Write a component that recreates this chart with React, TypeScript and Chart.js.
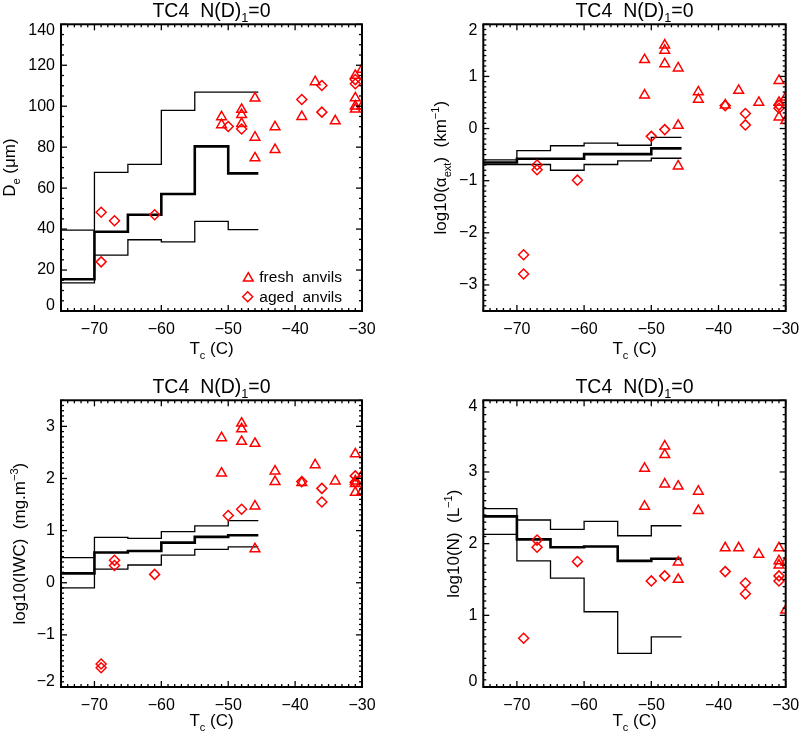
import React, { useEffect, useRef } from "react";
import { Chart, registerables } from "chart.js";
Chart.register(...registerables);

const FONT = '"Liberation Sans", Arial, Helvetica, sans-serif';
const RED = "#ff0000";

// ---------- shared x axis ----------
const binEdges = [-75, -70, -65, -60, -55, -50, -45.5];
const xTickValues = [-70, -60, -50, -40, -30];
const xTickLabels = ["\u221270", "\u221260", "\u221250", "\u221240", "\u221230"];

// ---------- Panel 1: De ----------
const deUpper = [39.5, 67.7, 71.6, 98.0, 106.9, 106.9];
const deMedian = [15.5, 38.7, 47.0, 57.1, 80.4, 67.2];
const deLower = [13.7, 27.3, 34.8, 33.8, 43.8, 39.7];
const deFreshT = [-51, -51, -48, -48, -48, -46, -46, -46, -43, -43, -39, -37, -34, -31, -31, -31, -31, -30, -30];
const deFreshV = [94.8, 90.9, 98.4, 95.9, 91.5, 103.9, 84.8, 74.7, 89.9, 78.8, 94.9, 111.9, 92.8, 115, 104, 100, 98.5, 118, 100];
const deAgedT = [-69, -69, -67, -61, -50, -48, -39, -36, -36, -31, -31];
const deAgedV = [48.2, 24.0, 44.1, 47.0, 90.1, 88.9, 103.3, 110.1, 97.1, 113, 111];
const deYTicks = [0, 20, 40, 60, 80, 100, 120, 140];
const deYLabels = ["0", "20", "40", "60", "80", "100", "120", "140"];

// ---------- Panel 2: log10(alpha_ext) ----------
const extUpper = [-0.60, -0.425, -0.33, -0.28, -0.32, -0.17];
const extMedian = [-0.65, -0.58, -0.58, -0.49, -0.49, -0.38];
const extLower = [-0.69, -0.69, -0.80, -0.69, -0.62, -0.57];
const extFreshT = [-51, -51, -48, -48, -48, -46, -46, -46, -43, -43, -39, -37, -34, -31, -31, -31, -30, -30];
const extFreshV = [1.32, 0.64, 1.60, 1.50, 1.24, 1.16, 0.06, -0.72, 0.70, 0.56, 0.45, 0.73, 0.50, 0.92, 0.50, 0.22, 0.60, 0.15];
const extAgedT = [-69, -69, -67, -67, -61, -50, -48, -39, -36, -36, -31, -31];
const extAgedV = [-2.42, -2.79, -0.70, -0.79, -0.99, -0.15, -0.02, 0.44, 0.29, 0.07, 0.45, 0.39];
const extYTicks = [-3, -2, -1, 0, 1, 2];
const extYLabels = ["\u22123", "\u22122", "\u22121", "0", "1", "2"];

// ---------- Panel 3: log10(IWC) ----------
const iwcUpper = [0.48, 0.87, 0.85, 0.98, 1.09, 1.19];
const iwcMedian = [0.18, 0.58, 0.61, 0.77, 0.88, 0.91];
const iwcLower = [-0.10, 0.26, 0.34, 0.53, 0.64, 0.69];
const iwcFreshT = [-51, -51, -48, -48, -48, -46, -46, -46, -43, -43, -39, -37, -34, -31, -31, -31, -31, -30, -30];
const iwcFreshV = [2.78, 2.10, 3.06, 2.95, 2.71, 2.67, 1.47, 0.65, 2.14, 1.94, 1.92, 2.26, 1.95, 2.47, 1.95, 1.90, 1.73, 2.06, 1.75];
const iwcAgedT = [-69, -69, -67, -67, -61, -50, -48, -39, -36, -36, -31, -31];
const iwcAgedV = [-1.56, -1.63, 0.43, 0.33, 0.16, 1.29, 1.41, 1.94, 1.81, 1.55, 2.05, 1.93];
const iwcYTicks = [-2, -1, 0, 1, 2, 3];
const iwcYLabels = ["\u22122", "\u22121", "0", "1", "2", "3"];

// ---------- Panel 4: log10(N) ----------
const nUpper = [2.49, 2.33, 2.20, 2.31, 2.11, 2.25];
const nMedian = [2.38, 2.06, 1.95, 1.96, 1.76, 1.79];
const nLower = [2.13, 1.76, 1.52, 1.05, 0.47, 0.70];
const nFreshT = [-51, -51, -48, -48, -48, -46, -46, -46, -43, -43, -39, -37, -34, -31, -31, -31, -30, -30];
const nFreshV = [3.05, 2.52, 3.36, 3.24, 2.83, 2.80, 1.74, 1.50, 2.73, 2.46, 1.94, 1.94, 1.85, 1.94, 1.76, 1.70, 1.74, 1.07];
const nAgedT = [-69, -67, -67, -61, -50, -48, -39, -36, -36, -31, -31];
const nAgedV = [0.68, 2.05, 1.95, 1.75, 1.48, 1.55, 1.61, 1.45, 1.30, 1.55, 1.48];
const nYTicks = [0, 1, 2, 3, 4];
const nYLabels = ["0", "1", "2", "3", "4"];

type Seg = { t: string; s?: "sub" | "sup" };

const titleSegs: Seg[] = [{ t: "TC4  N(D)" }, { t: "1", s: "sub" }, { t: "=0" }];
const xTitleSegs: Seg[] = [{ t: "T" }, { t: "c", s: "sub" }, { t: " (C)" }];

interface PanelCfg {
  left: number;
  top: number;
  width: number;
  height: number;
  area: { l: number; t: number; r: number; b: number };
  yMin: number;
  yMax: number;
  yMajorStep: number;
  yMinorStep: number;
  yTicks: number[];
  yLabels: string[];
  yTitle: Seg[];
  yTitleX: number;
  xTitleDy: number;
  upper: number[];
  median: number[];
  lower: number[];
  freshT: number[];
  freshV: number[];
  agedT: number[];
  agedV: number[];
  legend?: boolean;
}

const panels: PanelCfg[] = [
  {
    left: 0, top: 0, width: 400, height: 366,
    area: { l: 61, t: 24.3, r: 362, b: 311 },
    yMin: 0, yMax: 140, yMajorStep: 20, yMinorStep: 5,
    yTicks: deYTicks, yLabels: deYLabels,
    yTitle: [{ t: "D" }, { t: "e", s: "sub" }, { t: " (\u03bcm)" }], yTitleX: 15, xTitleDy: 43,
    upper: deUpper, median: deMedian, lower: deLower,
    freshT: deFreshT, freshV: deFreshV, agedT: deAgedT, agedV: deAgedV,
    legend: true,
  },
  {
    left: 400, top: 0, width: 400, height: 366,
    area: { l: 83.3, t: 24.3, r: 385.7, b: 311 },
    yMin: -3.5, yMax: 2, yMajorStep: 1, yMinorStep: 0.1,
    yTicks: extYTicks, yLabels: extYLabels,
    yTitle: [{ t: "log10(\u03b1" }, { t: "ext", s: "sub" }, { t: ")  (km" }, { t: "\u22121", s: "sup" }, { t: ")" }],
    yTitleX: 46, xTitleDy: 43,
    upper: extUpper, median: extMedian, lower: extLower,
    freshT: extFreshT, freshV: extFreshV, agedT: extAgedT, agedV: extAgedV,
  },
  {
    left: 0, top: 376, width: 400, height: 357,
    area: { l: 61, t: 24.3, r: 362, b: 311 },
    yMin: -2, yMax: 3.5, yMajorStep: 1, yMinorStep: 0.1,
    yTicks: iwcYTicks, yLabels: iwcYLabels,
    yTitle: [{ t: "log10(IWC)  (mg.m" }, { t: "\u22123", s: "sup" }, { t: ")" }],
    yTitleX: 25, xTitleDy: 39,
    upper: iwcUpper, median: iwcMedian, lower: iwcLower,
    freshT: iwcFreshT, freshV: iwcFreshV, agedT: iwcAgedT, agedV: iwcAgedV,
  },
  {
    left: 400, top: 376, width: 400, height: 357,
    area: { l: 83.3, t: 24.3, r: 385.7, b: 311 },
    yMin: 0, yMax: 4, yMajorStep: 1, yMinorStep: 0.1,
    yTicks: nYTicks, yLabels: nYLabels,
    yTitle: [{ t: "log10(N)  (L" }, { t: "\u22121", s: "sup" }, { t: ")" }],
    yTitleX: 59, xTitleDy: 39,
    upper: nUpper, median: nMedian, lower: nLower,
    freshT: nFreshT, freshV: nFreshV, agedT: nAgedT, agedV: nAgedV,
  },
];

function drawRich(ctx: CanvasRenderingContext2D, segs: Seg[], x: number, y: number, size: number, align: "center" | "left") {
  const fontOf = (sg: Seg) => `${sg.s ? size * 0.65 : size}px ${FONT}`;
  let total = 0;
  for (const sg of segs) {
    ctx.font = fontOf(sg);
    total += ctx.measureText(sg.t).width;
  }
  let cx = align === "center" ? x - total / 2 : x;
  ctx.textAlign = "left";
  ctx.textBaseline = "alphabetic";
  for (const sg of segs) {
    ctx.font = fontOf(sg);
    const dy = sg.s === "sub" ? size * 0.28 : sg.s === "sup" ? -size * 0.42 : 0;
    ctx.fillText(sg.t, cx, y + dy);
    cx += ctx.measureText(sg.t).width;
  }
}

function triPath(ctx: CanvasRenderingContext2D, x: number, y: number, r: number) {
  ctx.beginPath();
  ctx.moveTo(x, y - r);
  ctx.lineTo(x + 0.866 * r, y + r / 2);
  ctx.lineTo(x - 0.866 * r, y + r / 2);
  ctx.closePath();
}
function diaPath(ctx: CanvasRenderingContext2D, x: number, y: number, r: number) {
  ctx.beginPath();
  ctx.moveTo(x - r, y);
  ctx.lineTo(x, y - r);
  ctx.lineTo(x + r, y);
  ctx.lineTo(x, y + r);
  ctx.closePath();
}

function decorPlugin(cfg: PanelCfg) {
  return {
    id: "decor",
    afterDraw(chart: any) {
      const ctx: CanvasRenderingContext2D = chart.ctx;
      const xs = chart.scales.x;
      const ys = chart.scales.y;
      const { left, right, top, bottom } = chart.chartArea;
      ctx.save();
      ctx.strokeStyle = "#000";
      ctx.fillStyle = "#000";
      ctx.lineWidth = 1.3;
      const seg = (x1: number, y1: number, x2: number, y2: number) => {
        ctx.beginPath();
        ctx.moveTo(x1, y1);
        ctx.lineTo(x2, y2);
        ctx.stroke();
      };
      // x ticks (minor every 1, major every 10)
      for (let v = -75; v <= -30; v += 1) {
        const px = xs.getPixelForValue(v);
        const len = v % 10 === 0 ? 6 : 3;
        seg(px, bottom, px, bottom - len);
        seg(px, top, px, top + len);
      }
      // y ticks
      const n = Math.round((cfg.yMax - cfg.yMin) / cfg.yMinorStep);
      for (let i = 0; i <= n; i++) {
        const v = cfg.yMin + i * cfg.yMinorStep;
        const q = v / cfg.yMajorStep;
        const major = Math.abs(q - Math.round(q)) < 1e-6;
        const py = ys.getPixelForValue(v);
        const len = major ? 6 : 3;
        seg(left, py, left + len, py);
        seg(right, py, right - len, py);
      }
      // frame
      ctx.lineWidth = 2;
      ctx.strokeRect(left, top, right - left, bottom - top);

      // x tick labels
      ctx.font = `16px ${FONT}`;
      ctx.textAlign = "center";
      ctx.textBaseline = "alphabetic";
      xTickValues.forEach((v, i) => {
        ctx.fillText(xTickLabels[i], xs.getPixelForValue(v), bottom + 23);
      });
      // y tick labels
      ctx.textAlign = "right";
      ctx.textBaseline = "middle";
      cfg.yTicks.forEach((v, i) => {
        let py = ys.getPixelForValue(v);
        py = Math.max(top + 6.5, Math.min(bottom - 5, py));
        ctx.fillText(cfg.yLabels[i], left - 6, py);
      });
      // titles
      const cx = (left + right) / 2;
      drawRich(ctx, titleSegs, cx, 16.5, 19.5, "center");
      drawRich(ctx, xTitleSegs, cx, bottom + cfg.xTitleDy, 17, "center");
      ctx.save();
      ctx.translate(cfg.yTitleX, (top + bottom) / 2);
      ctx.rotate(-Math.PI / 2);
      drawRich(ctx, cfg.yTitle, 0, 0, 17, "center");
      ctx.restore();

      // legend
      if (cfg.legend) {
        ctx.strokeStyle = RED;
        ctx.lineWidth = 1.5;
        triPath(ctx, 248.3, 278.3, 5.6);
        ctx.stroke();
        diaPath(ctx, 247.7, 296.7, 5);
        ctx.stroke();
        ctx.fillStyle = "#000";
        ctx.font = `15.5px ${FONT}`;
        ctx.textAlign = "left";
        ctx.textBaseline = "alphabetic";
        ctx.fillText("fresh  anvils", 259.3, 282);
        ctx.fillText("aged  anvils", 259.3, 301.5);
      }
      ctx.restore();
    },
  };
}

function Panel({ cfg }: { cfg: PanelCfg }) {
  const ref = useRef<HTMLCanvasElement>(null);
  useEffect(() => {
    const canvas = ref.current;
    if (!canvas) return;
    const { l, t, r, b } = cfg.area;
    const pts = (xs: number[], ys: number[]) => xs.map((x, i) => ({ x, y: ys[i] }));
    const step = (vals: number[]) => binEdges.map((x, i) => ({ x, y: vals[Math.min(i, vals.length - 1)] }));
    const stepDs = (vals: number[], w: number) => ({
      type: "line" as const,
      data: step(vals),
      stepped: true,
      borderColor: "#000",
      borderWidth: w,
      pointRadius: 0,
      fill: false,
      clip: 0,
    });
    const chart = new Chart(canvas, {
      type: "scatter",
      data: {
        datasets: [
          {
            label: "fresh anvils",
            data: pts(cfg.freshT, cfg.freshV),
            pointStyle: "triangle",
            pointRadius: 5.6,
            borderWidth: 1.5,
            borderColor: RED,
            backgroundColor: "rgba(0,0,0,0)",
            clip: 0,
          },
          {
            label: "aged anvils",
            data: pts(cfg.agedT, cfg.agedV),
            pointStyle: "rectRot",
            pointRadius: 5,
            borderWidth: 1.5,
            borderColor: RED,
            backgroundColor: "rgba(0,0,0,0)",
            clip: 0,
          },
          stepDs(cfg.median, 2.6) as any,
          stepDs(cfg.upper, 1.3) as any,
          stepDs(cfg.lower, 1.3) as any,
        ],
      },
      options: {
        responsive: false,
        animation: false,
        devicePixelRatio: 1,
        events: [],
        layout: { padding: { left: l, top: t, right: cfg.width - r, bottom: cfg.height - b } },
        scales: {
          x: { type: "linear", min: -75, max: -30, display: false },
          y: { type: "linear", min: cfg.yMin, max: cfg.yMax, display: false },
        },
        plugins: { legend: { display: false }, tooltip: { enabled: false }, title: { display: false } },
      },
      plugins: [decorPlugin(cfg)],
    } as any);
    return () => chart.destroy();
  }, [cfg]);
  return (
    <canvas
      ref={ref}
      width={cfg.width}
      height={cfg.height}
      style={{ position: "absolute", left: cfg.left, top: cfg.top, width: cfg.width, height: cfg.height }}
    />
  );
}

export default function App() {
  useEffect(() => {
    document.body.style.margin = "0";
  }, []);
  return (
    <div style={{ position: "relative", width: 800, height: 733, background: "#fff", overflow: "hidden" }}>
      {panels.map((p, i) => (
        <Panel key={i} cfg={p} />
      ))}
    </div>
  );
}
